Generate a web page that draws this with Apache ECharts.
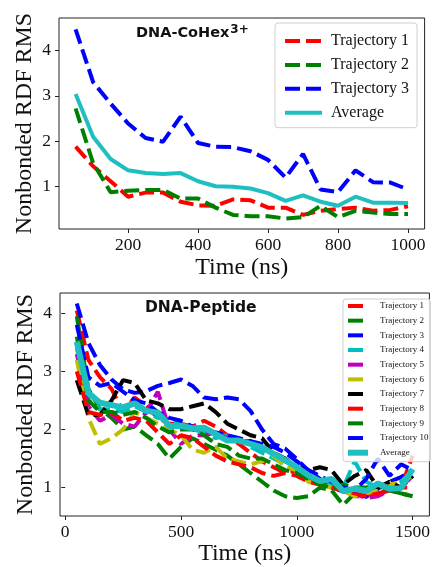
<!DOCTYPE html>
<html lang="en">
<head>
  <meta charset="UTF-8">
  <title>Nonbonded RDF RMS</title>
  <script src="https://cdn.jsdelivr.net/npm/echarts@6/dist/echarts.min.js"></script>
  <style>html,body{margin:0;padding:0;background:#fff;}</style>
</head>
<body>
  <div id="main" style="width:434px;height:567px;"></div>
  <script>
    // ---- top panel: DNA-CoHex3+ ----
    var cohexTime = [50, 100, 150, 200, 250, 300, 350, 400, 450, 500, 550, 600, 650, 700, 750, 800, 850, 900, 950, 1000];
    var cohexT1 = [1.88, 1.45, 1.12, 0.78, 0.87, 0.87, 0.67, 0.59, 0.58, 0.72, 0.70, 0.54, 0.54, 0.38, 0.47, 0.51, 0.54, 0.47, 0.49, 0.57];
    var cohexT2 = [2.72, 1.52, 0.88, 0.91, 0.93, 0.93, 0.74, 0.74, 0.54, 0.38, 0.35, 0.35, 0.30, 0.33, 0.58, 0.33, 0.47, 0.43, 0.40, 0.40];
    var cohexT3 = [4.46, 3.30, 2.83, 2.39, 2.07, 1.99, 2.54, 1.96, 1.88, 1.87, 1.78, 1.59, 1.20, 1.72, 0.94, 0.88, 1.36, 1.10, 1.09, 0.94];
    var cohexAvg = [3.04, 2.10, 1.61, 1.36, 1.30, 1.28, 1.30, 1.12, 1.01, 1.00, 0.96, 0.86, 0.69, 0.81, 0.67, 0.58, 0.78, 0.65, 0.65, 0.64];
    var cohexXTicks = [200, 400, 600, 800, 1000];
    var cohexYTicks = [1, 2, 3, 4];

    // ---- bottom panel: DNA-Peptide ----
    var pepTime = [50, 100, 150, 200, 250, 300, 350, 400, 450, 500, 550, 600, 650, 700, 750,
      800, 850, 900, 950, 1000, 1050, 1100, 1150, 1200, 1250, 1300, 1350, 1400, 1450, 1500];
    var pepT1 = [4.05, 3.2, 2.9, 2.7, 2.3, 2.55, 2.4, 2.2, 2.1, 2.1, 2.05, 2.15, 2.05, 1.9, 1.75, 1.6, 1.45, 1.35, 1.25, 1.3, 1.15, 1.05, 1.1, 0.95, 0.85, 0.85, 0.95, 0.95, 1.0, 1.55];
    var pepT2 = [3.95, 2.7, 2.35, 2.2, 2.0, 2.05, 1.9, 1.75, 1.5, 1.7, 1.85, 1.75, 1.65, 1.55, 1.4, 1.25, 1.1, 0.95, 0.85, 0.82, 0.85, 1.0, 0.95, 0.7, 0.9, 0.95, 0.9, 0.95, 0.9, 0.85];
    var pepT3 = [4.17, 3.49, 3.11, 2.86, 2.69, 2.63, 2.66, 2.75, 2.8, 2.86, 2.75, 2.55, 2.52, 2.55, 2.52, 2.32, 2.0, 1.75, 1.67, 1.49, 1.29, 1.15, 1.01, 0.93, 0.9, 0.84, 0.98, 1.1, 1.18, 1.29];
    var pepT4 = [3.4, 2.5, 2.35, 2.35, 2.3, 2.4, 2.3, 2.2, 2.15, 2.1, 2.0, 1.95, 1.85, 1.9, 1.85, 1.7, 1.6, 1.5, 1.4, 1.3, 1.2, 1.1, 1.05, 1.0, 1.45, 1.1, 1.0, 1.0, 1.1, 1.3];
    var pepT5 = [3.3, 2.4, 2.15, 2.25, 2.1, 2.05, 2.3, 2.65, 2.0, 1.75, 1.9, 1.9, 1.95, 1.85, 1.8, 1.8, 1.7, 1.6, 1.45, 1.35, 1.2, 1.05, 1.0, 0.95, 0.9, 0.82, 0.85, 0.95, 1.0, 1.2];
    var pepT6 = [3.2, 2.2, 1.75, 1.85, 2.0, 2.3, 2.2, 2.1, 2.0, 1.9, 1.65, 1.6, 1.7, 1.5, 1.45, 1.4, 1.45, 1.55, 1.35, 1.3, 1.1, 1.05, 1.0, 0.95, 0.85, 0.9, 0.95, 1.05, 1.1, 1.2];
    var pepT7 = [2.85, 2.25, 2.25, 2.5, 2.85, 2.8, 2.5, 2.45, 2.35, 2.35, 2.4, 2.45, 2.3, 2.1, 2.0, 1.9, 1.85, 1.6, 1.5, 1.35, 1.3, 1.35, 1.3, 1.05, 1.2, 1.3, 1.0, 1.1, 1.0, 1.2];
    var pepT8 = [3.0, 2.3, 2.25, 2.3, 2.15, 2.2, 2.15, 1.95, 1.75, 1.9, 1.85, 1.7, 1.55, 1.45, 1.4, 1.35, 1.25, 1.2, 1.25, 1.2, 1.1, 1.05, 1.0, 0.95, 0.9, 0.85, 0.9, 0.95, 1.0, 1.0];
    var pepT9 = [3.6, 2.5, 2.3, 2.3, 2.25, 2.3, 2.2, 2.05, 1.95, 2.0, 2.0, 1.9, 1.75, 1.7, 1.55, 1.5, 1.5, 1.4, 1.3, 1.25, 1.15, 1.05, 1.0, 1.05, 1.0, 1.0, 1.05, 0.95, 0.9, 0.85];
    var pepT10 = [3.8, 2.9, 2.75, 2.8, 2.65, 2.5, 2.45, 2.3, 2.2, 2.15, 2.05, 2.0, 1.95, 1.9, 1.85, 1.8, 1.75, 1.7, 1.6, 1.45, 1.3, 1.2, 1.1, 1.0, 0.95, 1.15, 1.5, 1.2, 1.4, 1.3];
    var pepAvg = [3.51, 2.63, 2.46, 2.42, 2.38, 2.45, 2.32, 2.29, 2.06, 2.06, 2.02, 2.03, 1.92, 1.81, 1.81, 1.75, 1.69, 1.58, 1.47, 1.35, 1.21, 1.11, 1.15, 0.94, 0.98, 0.94, 1.07, 0.98, 0.99, 1.32];
    var pepXTicks = [0, 500, 1000, 1500];
    var pepYTicks = [1, 2, 3, 4];

    var cohexNames = ['Trajectory 1', 'Trajectory 2', 'Trajectory 3', 'Average'];
    var cohexColors = ['#ff0000', '#008000', '#0000ff', '#1fbfbf'];
    var pepNames = ['Trajectory 1', 'Trajectory 2', 'Trajectory 3', 'Trajectory 4', 'Trajectory 5',
      'Trajectory 6', 'Trajectory 7', 'Trajectory 8', 'Trajectory 9', 'Trajectory 10', 'Average'];
    var pepColors = ['#ff0000', '#008000', '#0000ff', '#00bfbf', '#bf00bf', '#bfbf00', '#000000',
      '#ff0000', '#008000', '#0000ff', '#1fbfbf'];

    var serif = 'Liberation Serif';
    var dash = [15, 6];

    function pairs(xs, ys) {
      return xs.map(function (x, i) { return [x, ys[i]]; });
    }

    function lineSeries(name, color, xs, ys, idx, solid, width) {
      return {
        name: name,
        type: 'line',
        xAxisIndex: idx,
        yAxisIndex: idx,
        data: pairs(xs, ys),
        symbol: 'none',
        lineStyle: { color: color, width: width, type: solid ? 'solid' : dash, cap: 'butt' },
        itemStyle: { color: color },
        emphasis: { disabled: true },
        z: solid ? 5 : 2
      };
    }

    var series = [];
    [cohexT1, cohexT2, cohexT3, cohexAvg].forEach(function (ys, i) {
      series.push(lineSeries(cohexNames[i], cohexColors[i], cohexTime, ys, 0, i === 3, 4));
    });
    [pepT1, pepT2, pepT3, pepT4, pepT5, pepT6, pepT7, pepT8, pepT9, pepT10, pepAvg].forEach(function (ys, i) {
      series.push(lineSeries('pep ' + pepNames[i], pepColors[i], pepTime, ys, 1, i === 10, i === 10 ? 6 : 4));
    });

    function plain(v) { return String(v); }

    function xAxis(idx, min, max, ticks, gap) {
      return {
        type: 'value', gridIndex: idx, min: min, max: max,
        name: 'Time (ns)', nameLocation: 'middle', nameGap: gap, nameMoveOverlap: false,
        nameTextStyle: { fontFamily: serif, fontSize: 24, color: '#111' },
        axisLine: { show: false },
        axisTick: { show: true, length: 4, customValues: ticks, lineStyle: { color: '#222', width: 1 } },
        axisLabel: { customValues: ticks, formatter: plain, fontFamily: serif, fontSize: 17.5, color: '#111', margin: 7 },
        splitLine: { show: false }
      };
    }
    function yAxis(idx, min, max, ticks) {
      return {
        type: 'value', gridIndex: idx, min: min, max: max,
        name: 'Nonbonded RDF RMS', nameLocation: 'middle', nameGap: 22, nameMoveOverlap: false,
        nameTextStyle: { fontFamily: serif, fontSize: 24, color: '#111' },
        axisLine: { show: false },
        axisTick: { show: true, length: 4, customValues: ticks, lineStyle: { color: '#222', width: 1 } },
        axisLabel: { customValues: ticks, formatter: plain, fontFamily: serif, fontSize: 17.5, color: '#111', margin: 8 },
        splitLine: { show: false }
      };
    }

    var myChart = echarts.init(document.getElementById('main'));
    var option = {
      animation: false,
      backgroundColor: '#fff',
      title: [
        {
          text: '{b|DNA-CoHex}{s|3+}', left: 136, top: 24, padding: 0,
          textStyle: {
            rich: {
              b: { fontFamily: 'DejaVu Sans', fontWeight: 'bold', fontSize: 14.5, color: '#111' },
              s: { fontFamily: 'DejaVu Sans', fontWeight: 'bold', fontSize: 12, color: '#111', padding: [0, 0, 6, 1] }
            }
          }
        },
        {
          text: 'DNA-Peptide', left: 145, top: 300, padding: 0,
          textStyle: { fontFamily: 'DejaVu Sans', fontWeight: 'bold', fontSize: 15.5, color: '#111' }
        }
      ],
      grid: [
        { left: 59, top: 18, right: 9.4, height: 211, show: true, borderColor: '#222', borderWidth: 1, backgroundColor: 'transparent' },
        { left: 60, top: 293, right: 4.6, height: 224.7, show: true, borderColor: '#222', borderWidth: 1, backgroundColor: 'transparent' }
      ],
      xAxis: [xAxis(0, 2.5, 1047.5, cohexXTicks, 27), xAxis(1, -22.5, 1572.5, pepXTicks, 26)],
      yAxis: [yAxis(0, 0.07, 4.71, cohexYTicks), yAxis(1, 0.51, 4.35, pepYTicks)],
      legend: [
        {
          data: cohexNames, orient: 'vertical', left: 275, top: 23,
          itemWidth: 37, itemHeight: 14, itemGap: 7.9,
          padding: [10, 8, 7, 8],
          backgroundColor: 'rgba(255,255,255,0.8)', borderColor: '#cfcfcf', borderWidth: 1, borderRadius: 3,
          itemStyle: { opacity: 0 },
          lineStyle: { width: 4 },
          textStyle: { fontFamily: serif, fontSize: 16, color: '#111', lineHeight: 14, padding: [0, 0, 0, 4] },
          selectedMode: false
        },
        {
          data: pepNames.map(function (n, i) {
            return { name: 'pep ' + n, lineStyle: { width: i === 10 ? 6 : 4 } };
          }),
          formatter: function (n) { return n.slice(4); },
          orient: 'vertical', left: 343, top: 299,
          itemWidth: 20, itemHeight: 10, itemGap: 4.67,
          padding: [2, 2, 4, 2],
          backgroundColor: 'rgba(255,255,255,0.8)', borderColor: '#cfcfcf', borderWidth: 1, borderRadius: 3,
          itemStyle: { opacity: 0 },
          lineStyle: { width: 4 },
          textStyle: { fontFamily: serif, fontSize: 9, color: '#111', lineHeight: 10, padding: [0, 0, 0, 7] },
          selectedMode: false
        }
      ],
      series: series
    };
    myChart.setOption(option);
  </script>
</body>
</html>
